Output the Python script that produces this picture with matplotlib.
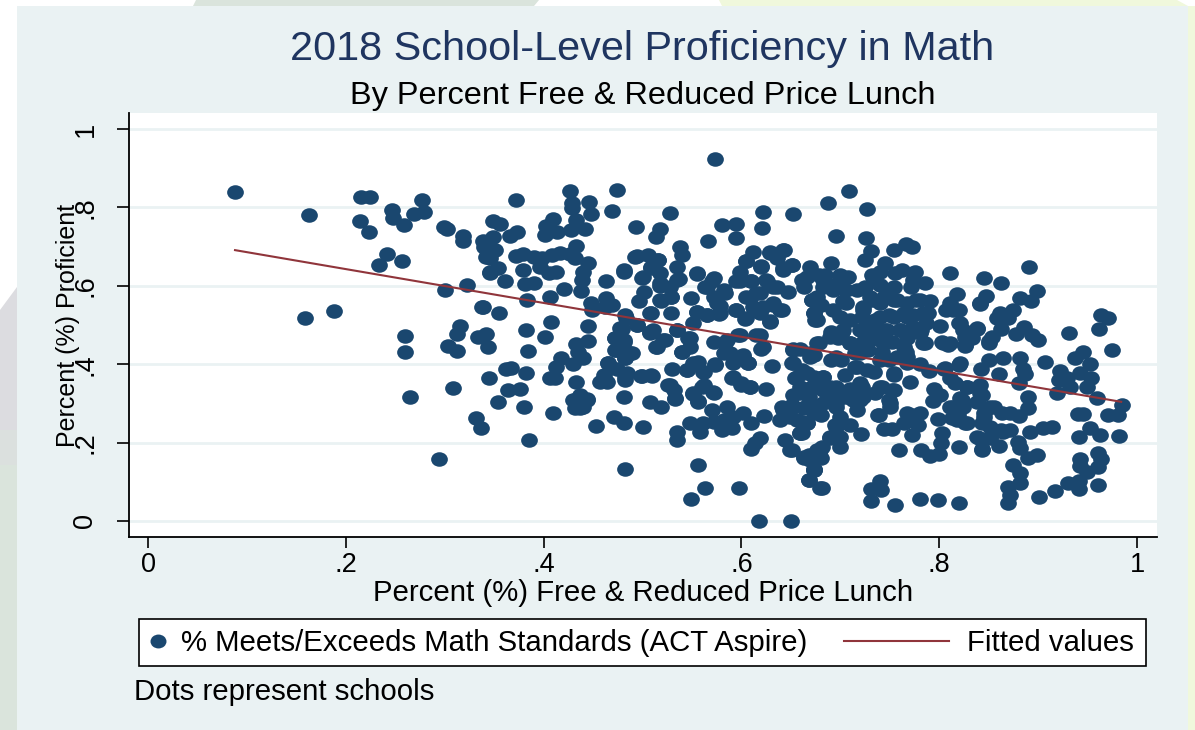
import numpy as np
import matplotlib
matplotlib.use('Agg')
import matplotlib.pyplot as plt
from matplotlib.legend_handler import HandlerLine2D
from matplotlib.lines import Line2D
from matplotlib.patches import Polygon, Rectangle
from matplotlib.path import Path
from matplotlib.transforms import Affine2D

plt.rcParams['font.family'] = ['Liberation Sans', 'DejaVu Sans']

# (free/reduced lunch share, share proficient)
left_schools = [
    (.088,.839),(.163,.781),(.215,.827),(.224,.827),(.214,.765),(.223,.738),(.247,.794),(.277,.820),
    (.279,.789),(.269,.782),(.248,.772),(.259,.755),(.299,.751),(.302,.744),(.319,.727),(.319,.715),
    (.242,.681),(.234,.652),(.257,.663),(.323,.603),(.300,.589),(.338,.546),(.188,.536),(.159,.517),
    (.260,.472),(.260,.431),(.315,.498),(.312,.478),(.303,.447),(.312,.434),(.334,.470),(.342,.477),
    (.344,.443),(.308,.340),(.265,.316),(.345,.364),(.332,.263),(.337,.236),(.294,.157),(.339,.715),
    (.340,.698),(.342,.674),(.346,.633),(.349,.766),(.356,.758),(.373,.736),(.366,.727),(.349,.724),
    (.342,.713),(.351,.691),(.346,.670),(.354,.645),(.346,.634),(.361,.611),(.339,.547),(.355,.531),
    (.362,.389),(.367,.391),(.364,.334),(.376,.338),(.354,.304),(.380,.291),(.382,.377),(.385,.207),
    (.372,.820),(.372,.676),(.379,.681),(.390,.674),(.398,.670),(.396,.649),(.390,.606),(.381,.605),
    (.379,.640),(.383,.564),(.382,.487),(.384,.434),
]
mid_schools = [
    (.573,.923),(.427,.841),(.474,.845),(.429,.812),(.429,.798),(.446,.813),(.448,.784),(.469,.790),
    (.528,.785),(.493,.749),(.518,.746),(.514,.725),(.622,.788),(.652,.783),(.621,.748),(.580,.756),
    (.595,.758),(.595,.722),(.566,.714),(.410,.770),(.402,.753),(.401,.729),(.414,.738),(.428,.742),
    (.433,.768),(.442,.744),(.408,.679),(.417,.683),(.427,.681),(.433,.702),(.432,.670),(.445,.657),
    (.440,.636),(.439,.615),(.438,.588),(.413,.636),(.405,.632),(.421,.592),(.406,.572),(.448,.555),
    (.449,.538),(.463,.568),(.469,.551),(.462,.547),(.463,.611),(.481,.640),(.494,.676),(.506,.679),
    (.516,.667),(.501,.623),(.502,.585),(.496,.562),(.509,.649),(.518,.632),(.518,.599),(.538,.700),
    (.540,.679),(.535,.649),(.537,.617),(.528,.598),(.529,.572),(.519,.560),(.509,.530),(.529,.530),
    (.555,.630),(.549,.568),(.555,.534),(.551,.506),(.570,.611),(.565,.598),(.583,.582),(.572,.572),
    (.578,.548),(.577,.528),(.565,.525),(.612,.685),(.629,.685),(.643,.691),(.636,.670),(.605,.662),
    (.620,.650),(.599,.636),(.595,.611),(.610,.611),(.625,.615),(.632,.598),(.647,.585),(.642,.645),
    (.651,.653),(.669,.647),(.661,.615),(.678,.628),(.615,.581),(.605,.572),(.612,.547),(.595,.539),
    (.604,.515),(.629,.508),(.641,.538),(.632,.551),(.622,.547),(.671,.564),(.673,.530),(.674,.513),
    (.483,.517),(.494,.500),(.479,.491),(.472,.466),(.481,.457),(.473,.436),(.487,.428),(.482,.415),
    (.511,.487),(.508,.479),(.515,.443),(.523,.462),(.535,.487),(.546,.466),(.540,.432),(.548,.445),
    (.572,.457),(.597,.474),(.615,.474),(.620,.440),(.583,.453),(.588,.428),(.602,.423),(.607,.402),
    (.592,.402),(.590,.364),(.600,.347),(.609,.343),(.631,.395),(.625,.337),(.445,.497),(.445,.460),
    (.433,.452),(.435,.432),(.440,.417),(.418,.417),(.430,.400),(.413,.392),(.406,.366),(.412,.364),
    (.433,.355),(.407,.508),(.401,.469),(.409,.275),(.465,.402),(.474,.389),(.484,.377),(.482,.360),
    (.457,.355),(.464,.355),(.461,.372),(.498,.370),(.510,.371),(.481,.317),(.508,.304),(.519,.292),
    (.430,.309),(.444,.310),(.435,.304),(.432,.287),(.440,.290),(.437,.321),(.471,.266),(.481,.249),
    (.453,.243),(.500,.241),(.482,.133),(.530,.389),(.545,.385),(.556,.406),(.561,.381),(.573,.400),
    (.526,.347),(.532,.334),(.533,.310),(.551,.324),(.560,.341),(.571,.328),(.556,.304),(.570,.283),
    (.585,.290),(.602,.275),(.592,.266),(.582,.257),(.623,.269),(.610,.249),(.591,.236),(.580,.232),
    (.548,.249),(.561,.249),(.572,.253),(.558,.228),(.535,.228),(.535,.207),(.619,.211),(.614,.198),
    (.610,.184),(.644,.207),(.651,.181),(.556,.143),(.563,.083),(.549,.056),(.598,.083),(.618,.000),
    (.650,.000),(.652,.440),(.673,.423),(.651,.402),(.661,.385),(.673,.368),(.654,.364),(.659,.343),
    (.676,.343),(.652,.321),(.668,.317),(.641,.292),(.651,.296),(.663,.287),(.673,.279),(.639,.258),
    (.649,.266),(.661,.253),(.659,.224),(.676,.453),(.676,.181),(.663,.160),(.673,.130),(.668,.105),
    (.679,.083),
]
right_schools = [
    (.709,.843),(.688,.810),(.727,.797),(.696,.727),(.726,.721),(.731,.690),(.725,.666),(.754,.691),
    (.766,.707),(.772,.700),(.745,.659),(.691,.657),(.811,.632),(.891,.648),(.845,.619),(.862,.608),
    (.847,.575),(.841,.554),(.899,.588),(.882,.568),(.893,.562),(.818,.578),(.811,.555),(.820,.538),
    (.807,.537),(.875,.538),(.861,.531),(.858,.517),(.870,.517),(.820,.506),(.824,.487),(.838,.491),
    (.862,.490),(.853,.470),(.850,.455),(.833,.466),(.826,.446),(.886,.494),(.878,.476),(.894,.474),
    (.900,.462),(.803,.457),(.809,.449),(.801,.498),(.786,.453),(.931,.480),(.964,.525),(.971,.517),
    (.962,.490),(.975,.436),(.945,.430),(.937,.415),(.952,.400),(.907,.406),(.922,.383),(.921,.360),
    (.929,.364),(.942,.377),(.953,.364),(.949,.343),(.932,.343),(.919,.326),(.960,.314),(.985,.295),
    (.981,.270),(.971,.270),(.940,.272),(.945,.273),(.982,.218),(.963,.219),(.952,.238),(.941,.215),
    (.914,.241),(.905,.236),(.892,.228),(.880,.202),(.882,.185),(.890,.160),(.899,.168),(.872,.232),
    (.862,.232),(.881,.269),(.872,.276),(.863,.275),(.890,.287),(.890,.317),(.851,.292),(.882,.415),
    (.865,.415),(.850,.411),(.842,.387),(.885,.389),(.887,.374),(.881,.351),(.860,.374),(.820,.398),
    (.805,.387),(.790,.383),(.781,.400),(.811,.364),(.816,.351),(.828,.343),(.841,.347),(.843,.321),
    (.795,.338),(.801,.321),(.794,.307),(.821,.313),(.814,.292),(.824,.292),(.838,.304),(.799,.259),
    (.813,.262),(.826,.249),(.819,.270),(.845,.275),(.843,.249),(.851,.241),(.840,.211),(.851,.211),
    (.865,.228),(.803,.225),(.802,.198),(.820,.188),(.843,.183),(.860,.191),(.782,.181),(.791,.166),
    (.800,.171),(.759,.181),(.772,.270),(.767,.275),(.781,.275),(.739,.270),(.744,.234),(.752,.235),
    (.772,.219),(.779,.245),(.764,.249),(.721,.221),(.700,.190),(.696,.219),(.710,.245),(.690,.211),
    (.875,.143),(.882,.122),(.882,.096),(.870,.088),(.872,.066),(.870,.045),(.901,.060),(.917,.077),
    (.930,.098),(.941,.103),(.941,.082),(.961,.091),(.942,.157),(.942,.140),(.949,.126),(.961,.137),
    (.964,.157),(.961,.174),(.740,.103),(.731,.081),(.741,.079),(.731,.052),(.755,.041),(.781,.057),
    (.799,.054),(.820,.047),(.681,.083),(.668,.105),(.673,.132),(.680,.160),(.681,.190),(.668,.168),
    (.685,.628),(.708,.623),(.732,.628),(.740,.636),(.762,.640),(.776,.636),(.786,.608),(.755,.632),
    (.666,.623),(.663,.598),(.683,.598),(.698,.606),(.725,.598),(.740,.602),(.754,.598),(.771,.598),
    (.671,.564),(.680,.551),(.693,.538),(.703,.560),(.723,.547),(.732,.564),(.744,.572),(.757,.564),
    (.777,.564),(.791,.562),(.789,.530),(.673,.530),(.676,.513),(.710,.513),(.722,.521),(.735,.513),
    (.749,.526),(.764,.530),(.774,.526),(.782,.487),(.691,.481),(.702,.483),(.720,.487),(.732,.487),
    (.745,.487),(.760,.487),(.772,.487),(.678,.453),(.698,.466),(.710,.453),(.723,.457),(.740,.466),
    (.752,.457),(.767,.466),(.669,.419),(.659,.440),(.691,.411),(.701,.411),(.715,.428),(.728,.436),
    (.742,.432),(.749,.411),(.766,.432),(.767,.402),(.715,.394),(.705,.372),(.734,.381),(.754,.372),
    (.770,.355),(.683,.368),(.666,.377),(.676,.355),(.690,.343),(.710,.338),(.722,.343),(.742,.343),
    (.752,.334),(.693,.317),(.706,.317),(.720,.309),(.735,.326),(.749,.309),(.664,.292),(.680,.270),
    (.673,.287),(.696,.292),(.717,.283),(.700,.266),(.666,.249),(.661,.224),(.695,.245),(.750,.292),
]
# second pass over the solid blobs, where single dots can't really be told apart
dense_right = [
    (.676,.572),(.683,.615),(.700,.628),(.706,.589),(.693,.589),(.717,.589),(.733,.623),(.747,.589),
    (.730,.572),(.740,.555),(.754,.564),(.767,.555),(.774,.615),(.781,.564),(.706,.555),(.723,.538),
    (.740,.521),(.754,.521),(.767,.521),(.784,.530),(.700,.521),(.690,.470),(.703,.487),(.730,.496),
    (.747,.487),(.760,.487),(.774,.496),(.787,.504),(.730,.462),(.743,.453),(.764,.445),(.781,.479),
    (.784,.453),(.710,.453),(.696,.419),(.720,.428),(.740,.411),(.757,.419),(.767,.419),(.754,.377),
    (.727,.385),(.717,.394),(.669,.428),(.652,.436),(.652,.402),(.656,.368),(.683,.368),(.669,.339),
    (.683,.334),(.696,.343),(.720,.351),(.713,.309),(.696,.300),(.683,.300),(.659,.326),(.652,.292),
    (.642,.283),(.656,.258),(.666,.249),(.696,.241),(.700,.215),(.690,.215),(.673,.275),(.723,.317),
    (.740,.343),(.754,.334),(.750,.300),(.738,.270),(.659,.224),(.649,.181),(.663,.164),(.679,.181),
    (.669,.156),(.673,.130),(.811,.453),(.804,.453),(.826,.449),(.850,.458),(.821,.504),(.838,.492),
    (.826,.470),(.821,.402),(.814,.538),(.841,.555),(.806,.390),(.828,.343),(.841,.326),(.823,.309),
    (.811,.292),(.818,.258),(.828,.249),(.855,.292),(.845,.266),(.838,.215),(.851,.215),(.843,.181),
]
dense_mid = [
    (.492,.674),(.516,.666),(.509,.645),(.481,.636),(.499,.619),(.518,.606),(.535,.615),(.529,.572),
    (.518,.564),(.508,.530),(.555,.632),(.572,.619),(.582,.589),(.563,.598),(.575,.555),(.555,.534),
    (.565,.526),(.578,.530),(.595,.538),(.605,.517),(.629,.509),(.639,.538),(.619,.530),(.599,.611),
    (.610,.611),(.626,.611),(.636,.598),(.609,.568),(.619,.581),(.632,.555),(.620,.649),(.605,.662),
    (.629,.683),(.642,.691),(.651,.653),(.642,.640),(.477,.492),(.494,.500),(.482,.526),(.472,.466),
    (.481,.462),(.472,.436),(.489,.428),(.482,.415),(.521,.462),(.514,.445),(.508,.483),(.535,.487),
    (.548,.466),(.540,.432),(.585,.462),(.582,.428),(.602,.419),(.607,.402),(.592,.368),(.600,.351),
    (.609,.343),(.622,.445),(.619,.475),(.599,.475),(.551,.402),(.562,.381),(.545,.385),(.573,.398),
    (.562,.347),(.551,.326),(.572,.326),(.556,.305),(.528,.347),(.533,.313),(.432,.309),(.437,.288),
    (.444,.309),(.460,.360),(.465,.402),(.482,.368),(.499,.370),(.509,.373),
]
fit_x = [.088, .984]
fit_y = [.691, .304]

xtick_vals = [0, .2, .4, .6, .8, 1]
xtick_labels = ['0', '.2', '.4', '.6', '.8', '1']
ytick_vals = [0, .2, .4, .6, .8, 1]
ytick_labels = ['0', '.2', '.4', '.6', '.8', '1']

W, H = 1195, 730
panel = '#eaf2f3'
navy = '#1a476f'
maroon = '#90353b'
grey_green = '#dae4dc'
lilac = '#dcdce0'
lime = '#f0f8dc'


class LongLine(HandlerLine2D):
    # the fitted-values key runs out past the handle box, the dot key doesn't
    def create_artists(self, legend, orig, xd, yd, w, h, fs, trans):
        return super().create_artists(legend, orig, xd + 60.6, yd, w + 54.6, h, fs, trans)


schools = np.array(left_schools + mid_schools + right_schools + dense_right + dense_mid)

fig = plt.figure(figsize=(W / 100, H / 100), dpi=100, facecolor='white')

# backdrop behind the graph, in picture pixels
bg = fig.add_axes([0, 0, 1, 1], zorder=0)
bg.set_xlim(0, W)
bg.set_ylim(H, 0)
bg.axis('off')
bg.add_patch(Polygon([(196, 0), (539, 0), (534, 6), (193, 6)], fc=grey_green, ec='none'))
bg.add_patch(Polygon([(719, 0), (1177, 0), (1188, 6), (722, 6)], fc=lime, ec='none'))
bg.add_patch(Rectangle((1188, 6), 7, H, fc=lime, ec='none'))
bg.add_patch(Polygon([(0, 310), (17, 287), (17, 430), (0, 430)], fc=lilac, ec='none'))
bg.add_patch(Rectangle((0, 430), 17, 35, fc='#dbe0de', ec='none'))
bg.add_patch(Rectangle((0, 465), 17, 265, fc=grey_green, ec='none'))
bg.add_patch(Rectangle((17, 6), 1171, 724, fc=panel, ec='none'))
bg.add_patch(Rectangle((139, 619), 1007, 47, fc='white', ec='black', lw=1.2))

# plot region 129..1157 x 113..536.5 px
ax = fig.add_axes([129 / W, 1 - 536.5 / H, 1028 / W, 423.5 / H], zorder=1)
ax.set_facecolor('white')
ax.set_xlim((129 - 148) / 989, (1157 - 148) / 989)
ax.set_ylim((521 - 536.5) / 392, (521 - 113) / 392)
for s in ['top', 'right']:
    ax.spines[s].set_visible(False)
for s in ['left', 'bottom']:
    ax.spines[s].set_linewidth(1.3)

ax.set_yticks(ytick_vals)
ax.set_yticklabels(ytick_labels, rotation=90, va='center', fontsize=19.5)
ax.set_xticks(xtick_vals)
ax.set_xticklabels(xtick_labels, fontsize=19.5)
ax.tick_params(axis='y', length=9, width=1.2, pad=13)
ax.tick_params(axis='x', length=8, width=1.2, pad=3)
ax.grid(axis='y', color=panel, linewidth=2)
ax.set_axisbelow(True)

# stata's dots come out slightly wide in this picture
dot = Affine2D().scale(1.15, 1).transform_path(Path.unit_circle())
ax.scatter(schools[:, 0], schools[:, 1], s=145, marker=dot, color=navy, linewidths=0, zorder=2)
ax.plot(fit_x, fit_y, color=maroon, linewidth=1.5, zorder=3)

fig.text(642 / W, 1 - 60 / H, '2018 School-Level Proficiency in Math', color='#1f3560',
         fontsize=29.8, ha='center', va='baseline')
fig.text(642.5 / W, 1 - 104 / H, 'By Percent Free & Reduced Price Lunch', color='black',
         fontsize=23.4, ha='center', va='baseline')
fig.text(643 / W, 1 - 601 / H, 'Percent (%) Free & Reduced Price Lunch', color='black',
         fontsize=21.2, ha='center', va='baseline')
fig.text(68 / W, 1 - 325 / H, 'Percent (%) Proficient', color='black', rotation=90,
         fontsize=18, ha='center', va='center')
fig.text(134 / W, 1 - 700 / H, 'Dots represent schools', color='black',
         fontsize=21.2, ha='left', va='baseline')

handles = [Line2D([], [], linestyle='none', marker=dot, markersize=11.5, color=navy, markeredgewidth=0),
           Line2D([], [], color=maroon, linewidth=1.5)]
labels = ['% Meets/Exceeds Math Standards (ACT Aspire)', 'Fitted values']
leg = fig.legend(handles, labels, ncol=2, loc='center left',
                 bbox_to_anchor=(143 / W, 1 - 643 / H), borderaxespad=0, borderpad=0,
                 fontsize=21.2, frameon=False, handlelength=1, handletextpad=0.3,
                 columnspacing=4.10, handler_map={handles[1]: LongLine()})
leg.set_zorder(3)

fig.savefig('out.png', dpi=100)
